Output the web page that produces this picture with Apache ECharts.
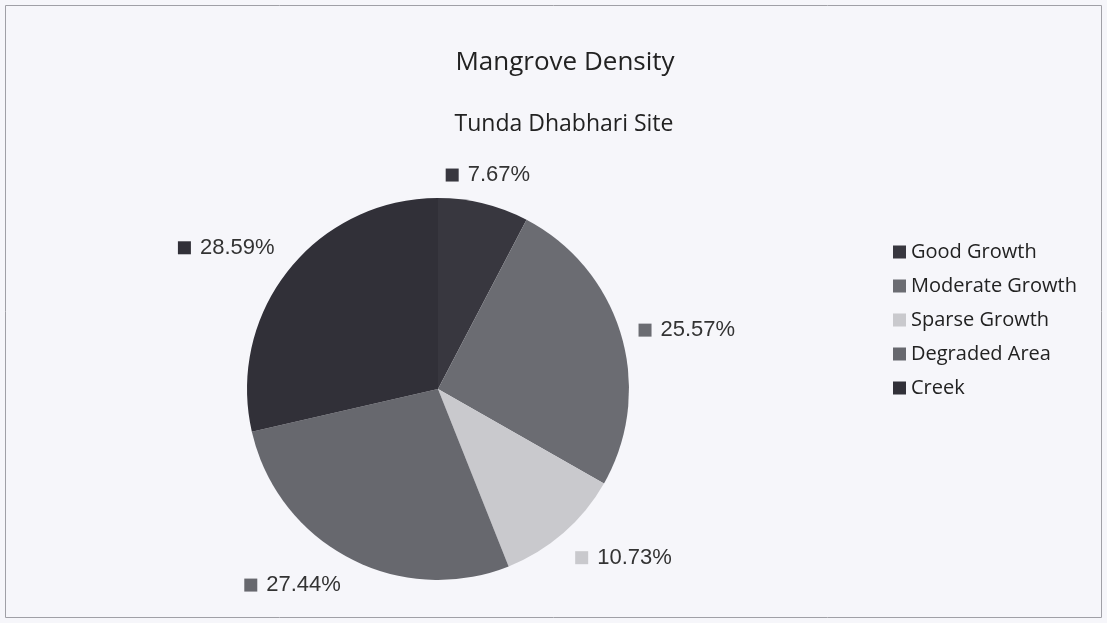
<!DOCTYPE html>
<html>
<head>
<meta charset="utf-8">
<script src="https://cdn.jsdelivr.net/npm/echarts@6/dist/echarts.min.js"></script>
<style>
    html, body { margin: 0; padding: 0; background: #f6f6fa; }
    #chart { width: 1107px; height: 623px; }
</style>
</head>
<body>
<div id="chart"></div>
<script>
    // chart data
    const categories = ['Good Growth', 'Moderate Growth', 'Sparse Growth', 'Degraded Area', 'Creek'];
    const shares = [7.67, 25.57, 10.73, 27.44, 28.59];
    const colors = ['#38373f', '#6b6c72', '#c9c9cd', '#67686e', '#313038'];

    const pieCenter = [438, 389];
    const pieRadius = 191;

    const rich = {};
    colors.forEach(function (c, i) {
        rich['sq' + i] = { width: 13, height: 13, backgroundColor: c };
    });
    rich.txt = { fontFamily: 'Liberation Sans', fontSize: 22, color: '#333', padding: [0, 0, 0, 9] };

    // mid angle of every slice, clockwise from 12 o'clock (Excel style)
    const total = shares.reduce(function (a, b) { return a + b; }, 0);
    const midAngles = [];
    let acc = 0;
    shares.forEach(function (v) {
        midAngles.push((acc + v / 2) / total * Math.PI * 2);
        acc += v;
    });

    // which side of the label box touches the anchor point: -1, 0 or 1
    function side(u) {
        return Math.abs(u) < 0.383 ? 0 : Math.sign(u);
    }

    const chart = echarts.init(document.getElementById('chart'));
    chart.setOption({
        backgroundColor: '#f6f6fa',
        animation: false,
        color: colors,
        title: [
            {
                text: 'Mangrove Density',
                left: 560, top: 45, textAlign: 'center',
                textStyle: { fontFamily: 'Open Sans', fontSize: 26, fontWeight: 'normal', color: '#222' }
            },
            {
                text: 'Tunda Dhabhari Site',
                left: 559, top: 108, textAlign: 'center',
                textStyle: { fontFamily: 'Open Sans', fontSize: 23, fontWeight: 'normal', color: '#222' }
            }
        ],
        legend: {
            orient: 'vertical',
            left: 888, top: 237,
            itemWidth: 13, itemHeight: 13, itemGap: 14,
            icon: 'rect',
            textStyle: { fontFamily: 'Open Sans', fontSize: 20, color: '#222' },
            data: categories
        },
        graphic: [{
            type: 'rect',
            shape: { x: 5.5, y: 5.5, width: 1096, height: 612 },
            style: { fill: 'none', stroke: '#a0a0a6', lineWidth: 1 }
        }],
        series: [{
            type: 'pie',
            center: pieCenter,
            radius: [0, pieRadius],
            startAngle: 90,
            clockwise: true,
            data: categories.map(function (name, i) { return { name: name, value: shares[i] }; }),
            label: {
                show: true,
                position: 'outside',
                formatter: function (p) {
                    return '{sq' + p.dataIndex + '|}{txt|' + p.value.toFixed(2) + '%}';
                },
                rich: rich
            },
            labelLine: { show: false, length: 8, length2: 0 },
            // Excel-like placement: an edge or corner of the label box rests just beyond the rim
            labelLayout: function (p) {
                const a = midAngles[p.dataIndex];
                const ux = Math.sin(a), uy = -Math.cos(a);
                const w = p.labelRect.width, h = p.labelRect.height;
                const d = pieRadius + 18;
                return {
                    x: pieCenter[0] + ux * d + side(ux) * w / 2,
                    y: pieCenter[1] + uy * d + side(uy) * h / 2,
                    align: 'center',
                    verticalAlign: 'middle'
                };
            },
            itemStyle: { borderWidth: 0 },
            emphasis: { disabled: true }
        }]
    });
</script>
</body>
</html>
